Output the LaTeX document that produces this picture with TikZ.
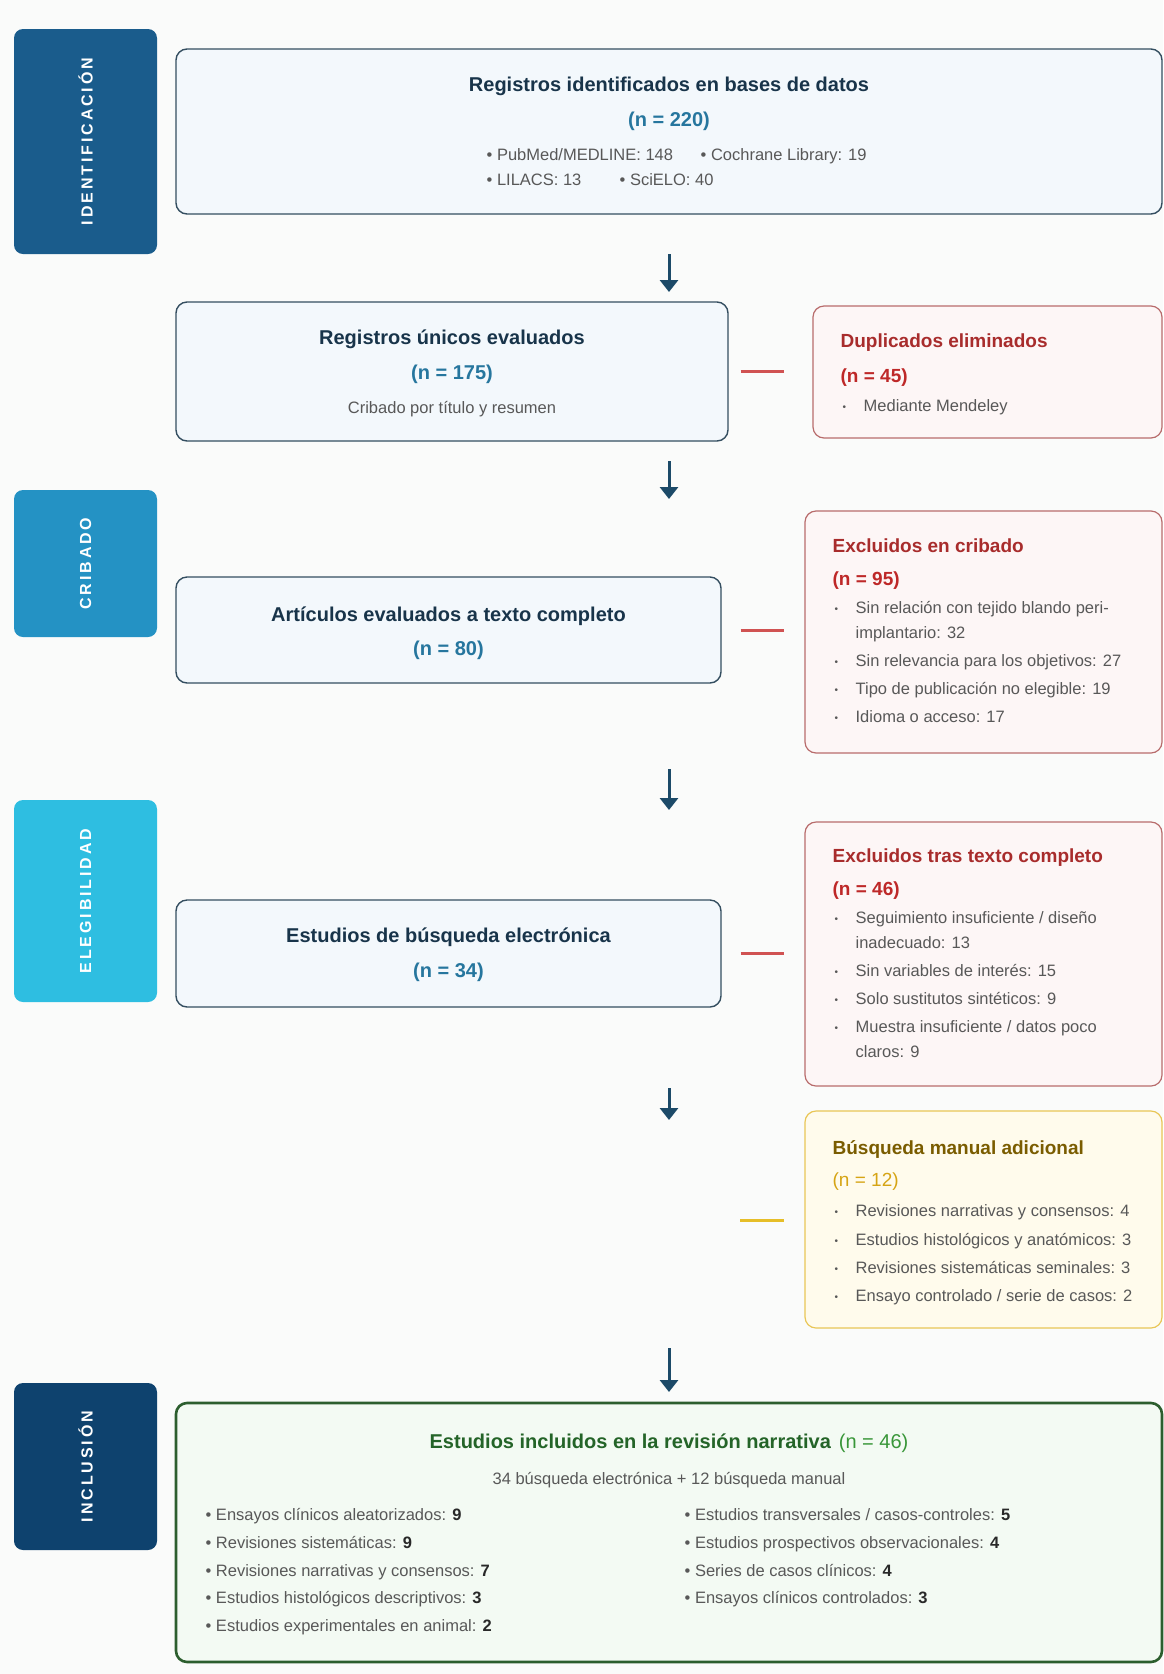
\documentclass[tikz,border=0pt]{standalone}
\usepackage{fontspec}
\setmainfont{Liberation Sans}
\newfontfamily\bandfont[LetterSpace=18]{Liberation Sans}
\usetikzlibrary{arrows.meta}
\definecolor{pagebg}{RGB}{250,251,250}
\definecolor{slate}{RGB}{52,78,96}
\definecolor{bluefill}{RGB}{243,248,252}
\definecolor{navytxt}{RGB}{24,52,74}
\definecolor{ncol}{RGB}{38,118,158}
\definecolor{greytxt}{RGB}{88,88,88}
\definecolor{numtxt}{RGB}{40,40,40}
\definecolor{redbord}{RGB}{184,108,108}
\definecolor{redfill}{RGB}{253,246,246}
\definecolor{redtxt}{RGB}{168,44,44}
\definecolor{redn}{RGB}{190,40,40}
\definecolor{redlink}{RGB}{208,82,82}
\definecolor{goldbord}{RGB}{233,198,86}
\definecolor{goldfill}{RGB}{255,251,236}
\definecolor{goldtxt}{RGB}{122,92,0}
\definecolor{goldn}{RGB}{214,164,20}
\definecolor{goldlink}{RGB}{230,190,40}
\definecolor{grnbord}{RGB}{44,94,46}
\definecolor{grnfill}{RGB}{243,250,243}
\definecolor{grntxt}{RGB}{36,100,40}
\definecolor{grnn}{RGB}{56,150,56}
\definecolor{arrowcol}{RGB}{28,74,104}
\definecolor{bandA}{RGB}{26,92,140}
\definecolor{bandB}{RGB}{36,146,196}
\definecolor{bandC}{RGB}{46,190,225}
\definecolor{bandD}{RGB}{14,66,110}
\newcommand\bul{\makebox[21pt][l]{\fontsize{10}{10}\selectfont\raisebox{1pt}{•}}}
\newcommand\cont{\hspace*{21pt}}
\newcommand\nb[1]{{\bfseries\color{numtxt}#1}}

\begin{document}
\begin{tikzpicture}[x=1pt,y=-1pt,line width=1.3pt,
  band/.style={fill=#1,rounded corners=9pt,rotate=90,text=white,inner sep=0pt,font=\bandfont\bfseries\fontsize{16}{16}\selectfont},
  blubox/.style={draw=slate,fill=bluefill,rounded corners=11pt,line width=1.4pt,inner sep=0pt},
  redbox/.style={draw=redbord,fill=redfill,rounded corners=11pt,line width=1.2pt,inner sep=0pt},
  goldbox/.style={draw=goldbord,fill=goldfill,rounded corners=11pt,line width=1.2pt,inner sep=0pt},
  grnbox/.style={draw=grnbord,fill=grnfill,rounded corners=11pt,line width=2.6pt,inner sep=0pt},
  ttl/.style={inner sep=0pt,anchor=mid,yshift=-5pt,font=\bfseries\fontsize{20}{24}\selectfont,text=navytxt},
  nval/.style={inner sep=0pt,anchor=mid,yshift=-3pt,font=\bfseries\fontsize{20}{24}\selectfont,text=ncol},
  sttl/.style={inner sep=0pt,anchor=mid west,yshift=-5pt,font=\bfseries\fontsize{19}{23}\selectfont,text=#1},
  snval/.style={inner sep=0pt,anchor=mid west,yshift=-3pt,font=\fontsize{19}{23}\selectfont,text=#1},
  item/.style={inner sep=0pt,anchor=mid west,yshift=-4pt,font=\fontsize{16.5}{20}\selectfont,text=greytxt},
  citem/.style={inner sep=0pt,anchor=mid,yshift=-4pt,font=\fontsize{16.5}{20}\selectfont,text=greytxt},
  flow/.style={draw=arrowcol,line width=3pt,-{Triangle[width=18pt,length=12pt]}},
  sidelink/.style={draw=#1,line width=3pt}]
\fill[pagebg] (0,0) rectangle (1163,1674);
\useasboundingbox (0,0) rectangle (1163,1674);

% phase bands
\node[band=bandA,minimum width=225,minimum height=143] (bid) at (85.5,141.5) {IDENTIFICACIÓN};
\node[band=bandB,minimum width=147,minimum height=143] (bcr) at (85.5,563.5) {CRIBADO};
\node[band=bandC,minimum width=202,minimum height=143] (bel) at (85.5,901) {ELEGIBILIDAD};
\node[band=bandD,minimum width=167,minimum height=143] (bin) at (85.5,1466.5) {INCLUSIÓN};

% identificacion
\node[blubox,minimum width=986,minimum height=165] (idb) at (669,131.5) {};
\node[ttl] (idt) at (669,84) {Registros identificados en bases de datos};
\node[nval] (idn) at (669,121) {(n = 220)};
\node[item] (id1) at (486,154) {• PubMed/MEDLINE: 148};\node[item] (id2) at (700,154) {• Cochrane Library: 19};
\node[item] (id3) at (486,179) {• LILACS: 13};\node[item] (id4) at (619,179) {• SciELO: 40};

\node[blubox,minimum width=552,minimum height=139] (reg) at (452,371.5) {};
\node[ttl] (regt) at (452,337) {Registros únicos evaluados};
\node[nval] (regn) at (452,374) {(n = 175)};
\node[citem] (regs) at (452,407) {Cribado por título y resumen};

\node[redbox,minimum width=349,minimum height=132] (dup) at (987.5,372) {};
\node[sttl=redtxt] (dupt) at (840,340) {Duplicados eliminados};
\node[sttl=redn] (dupn) at (840,375) {(n = 45)};
\node[item] (dup1) at (842,405) {\bul Mediante Mendeley};

% cribado
\node[blubox,minimum width=545,minimum height=106] (art) at (448.5,630) {};
\node[ttl] (artt) at (448.5,614) {Artículos evaluados a texto completo};
\node[nval] (artn) at (448.5,650) {(n = 80)};

\node[redbox,minimum width=357,minimum height=242] (exc) at (983.5,632) {};
\node[sttl=redtxt] (exct) at (832,545) {Excluidos en cribado};
\node[sttl=redn] (excn) at (832,578) {(n = 95)};
\node[item] (exc1) at (834,607) {\bul Sin relación con tejido blando peri-};
\node[item] (exc1b) at (834,632) {\cont implantario: 32};
\node[item] (exc2) at (834,660) {\bul Sin relevancia para los objetivos: 27};
\node[item] (exc3) at (834,688) {\bul Tipo de publicación no elegible: 19};
\node[item] (exc4) at (834,716) {\bul Idioma o acceso: 17};

% elegibilidad
\node[blubox,minimum width=545,minimum height=107] (ele) at (448.5,953.5) {};
\node[ttl] (elet) at (448.5,935) {Estudios de búsqueda electrónica};
\node[nval] (elen) at (448.5,972) {(n = 34)};

\node[redbox,minimum width=357,minimum height=264] (ext) at (983.5,954) {};
\node[sttl=redtxt] (extt) at (832,855) {Excluidos tras texto completo};
\node[sttl=redn] (extn) at (832,888) {(n = 46)};
\node[item] (ext1) at (834,917) {\bul Seguimiento insuficiente / diseño};
\node[item] (ext1b) at (834,942) {\cont inadecuado: 13};
\node[item] (ext2) at (834,970) {\bul Sin variables de interés: 15};
\node[item] (ext3) at (834,998) {\bul Solo sustitutos sintéticos: 9};
\node[item] (ext4) at (834,1026) {\bul Muestra insuficiente / datos poco};
\node[item] (ext4b) at (834,1051) {\cont claros: 9};

\node[goldbox,minimum width=357,minimum height=217] (man) at (983.5,1219.5) {};
\node[sttl=goldtxt] (mant) at (832,1147) {Búsqueda manual adicional};
\node[snval=goldn] (mann) at (832,1181) {(n = 12)};
\node[item] (man1) at (834,1210) {\bul Revisiones narrativas y consensos: 4};
\node[item] (man2) at (834,1239) {\bul Estudios histológicos y anatómicos: 3};
\node[item] (man3) at (834,1267) {\bul Revisiones sistemáticas seminales: 3};
\node[item] (man4) at (834,1295) {\bul Ensayo controlado / serie de casos: 2};

% inclusion
\node[grnbox,minimum width=986,minimum height=259] (inc) at (669,1532.5) {};
\node[ttl,text=grntxt] (inct) at (669,1441) {Estudios incluidos en la revisión narrativa\hspace{8pt}{\mdseries\color{grnn}(n = 46)}};
\node[citem] (incs) at (669,1478) {34 búsqueda electrónica + 12 búsqueda manual};
\node[item] (inc1) at (205,1514) {• Ensayos clínicos aleatorizados: \nb{9}};
\node[item] (inc2) at (205,1542) {• Revisiones sistemáticas: \nb{9}};
\node[item] (inc3) at (205,1570) {• Revisiones narrativas y consensos: \nb{7}};
\node[item] (inc4) at (205,1597) {• Estudios histológicos descriptivos: \nb{3}};
\node[item] (inc5) at (205,1625) {• Estudios experimentales en animal: \nb{2}};
\node[item] (inc6) at (684,1514) {• Estudios transversales / casos-controles: \nb{5}};
\node[item] (inc7) at (684,1542) {• Estudios prospectivos observacionales: \nb{4}};
\node[item] (inc8) at (684,1570) {• Series de casos clínicos: \nb{4}};
\node[item] (inc9) at (684,1597) {• Ensayos clínicos controlados: \nb{3}};

% flechas
\coordinate (f1) at (669,254);\coordinate (f1e) at (669,292);
\coordinate (f2) at (669,461);\coordinate (f2e) at (669,499);
\coordinate (f3) at (669,769);\coordinate (f3e) at (669,810);
\coordinate (f4) at (669,1088);\coordinate (f4e) at (669,1120);
\coordinate (f5) at (669,1348);\coordinate (f5e) at (669,1392);
\draw[flow] (f1)--(f1e);\draw[flow] (f2)--(f2e);\draw[flow] (f3)--(f3e);
\draw[flow] (f4)--(f4e);\draw[flow] (f5)--(f5e);
\draw[sidelink=redlink,shorten <=12pt,shorten >=28pt] (reg.east)--(reg.east-|dup.west);
\draw[sidelink=redlink,shorten <=19pt,shorten >=20pt] (art.east)--(art.east-|exc.west);
\draw[sidelink=redlink,shorten <=19pt,shorten >=20pt] (ele.east)--(ele.east-|ext.west);
\coordinate (g0) at (740,1220);
\draw[sidelink=goldlink,shorten >=20pt] (g0)--(g0-|man.west);
\end{tikzpicture}
\end{document}
